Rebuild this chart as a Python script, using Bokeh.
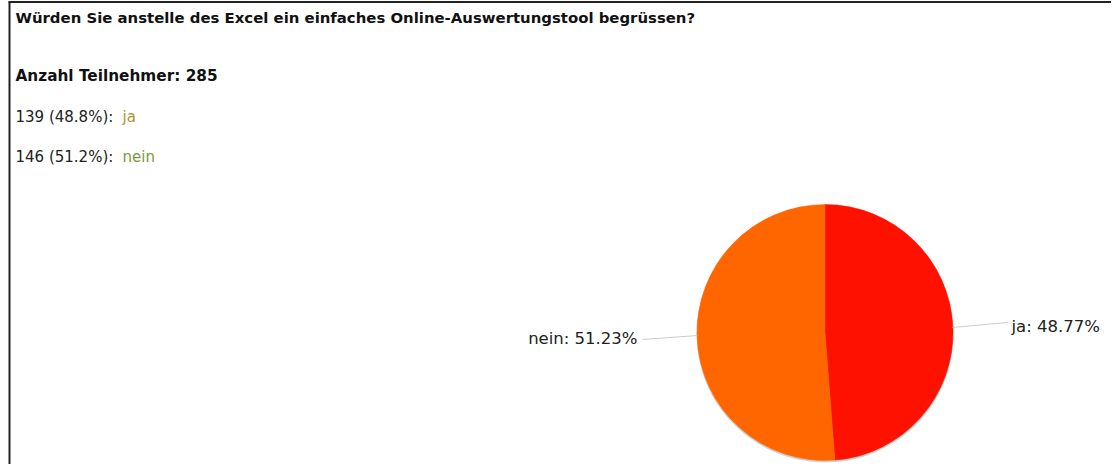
import numpy as np
from bokeh.plotting import figure
from bokeh.models import Range1d, ColumnDataSource
from bokeh.core.properties import value
from bokeh.embed import file_html
from bokeh.resources import INLINE

# ---- data ----
title_text = "Würden Sie anstelle des Excel ein einfaches Online-Auswertungstool begrüssen?"
answers = ["ja", "nein"]
counts = [139, 146]
slice_colors = ["#ff1100", "#ff6600"]
answer_colors = ["#a8962e", "#7a9a3a"]

total = sum(counts)
shares = [c / total for c in counts]

# ---- layout helpers (picture pixel coords -> data coords) ----
W, H = 1111, 464
def Y(py):
    return H - py

FONT = "DejaVu Sans"

p = figure(width=W, height=H, x_range=Range1d(0, W), y_range=Range1d(0, H),
           output_backend="svg", toolbar_location=None, min_border=0)
p.axis.visible = False
p.grid.visible = False
p.outline_line_color = None
p.background_fill_color = "white"
p.border_fill_color = "white"

# frame lines (left and top)
p.segment(x0=[9, 8], y0=[Y(1), Y(1.5)], x1=[9, W], y1=[Y(H), Y(1.5)],
          line_color="#222222", line_width=2)

# header texts
p.text(x=[15], y=[Y(17)], text=[title_text], text_font=value(FONT), text_font_style="bold",
       text_font_size="14.9px", text_baseline="middle", text_color="#111111")
p.text(x=[15], y=[Y(75)], text=[f"Anzahl Teilnehmer: {total}"], text_font=value(FONT),
       text_font_style="bold", text_font_size="15.3px", text_baseline="middle", text_color="#111111")
rows_y = [Y(116), Y(156)]
p.text(x=[15, 15], y=rows_y,
       text=[f"{c} ({s*100:.1f}%): " for c, s in zip(counts, shares)],
       text_font=value(FONT), text_font_size="15px", text_baseline="middle", text_color="#222222")
p.text(x=[122, 122], y=rows_y, text=answers, text_color=answer_colors,
       text_font=value(FONT), text_font_size="15px", text_baseline="middle")

# pie
cx, cy, r = 824.5, Y(332), 128
ends = np.cumsum(shares)
starts = np.concatenate([[0], ends[:-1]])
src = ColumnDataSource(dict(
    start=np.pi / 2 - starts * 2 * np.pi,
    end=np.pi / 2 - ends * 2 * np.pi,
    color=slice_colors,
))
# soft shadow
p.circle(x=[cx], y=[cy - 1.5], radius=r + 0.5, fill_color="black", fill_alpha=0.18, line_color=None)
p.wedge(x=cx, y=cy, radius=r, start_angle="start", end_angle="end", direction="clock",
        fill_color="color", line_color="color", line_width=0.5, source=src)

# leader lines + labels
p.segment(x0=[952, 642], y0=[Y(327), Y(339)], x1=[1007, 697], y1=[Y(322), Y(335)],
          line_color="#cccccc", line_width=1.2)
p.text(x=[1011], y=[Y(326)], text=[f"{answers[0]}: {shares[0]*100:.2f}%"],
       text_font=value(FONT), text_font_size="16.5px", text_baseline="middle", text_color="#222222")
p.text(x=[637], y=[Y(338)], text=[f"{answers[1]}: {shares[1]*100:.2f}%"], text_align="right",
       text_font=value(FONT), text_font_size="16.5px", text_baseline="middle", text_color="#222222")

open("out.html", "w").write(file_html(p, INLINE))
